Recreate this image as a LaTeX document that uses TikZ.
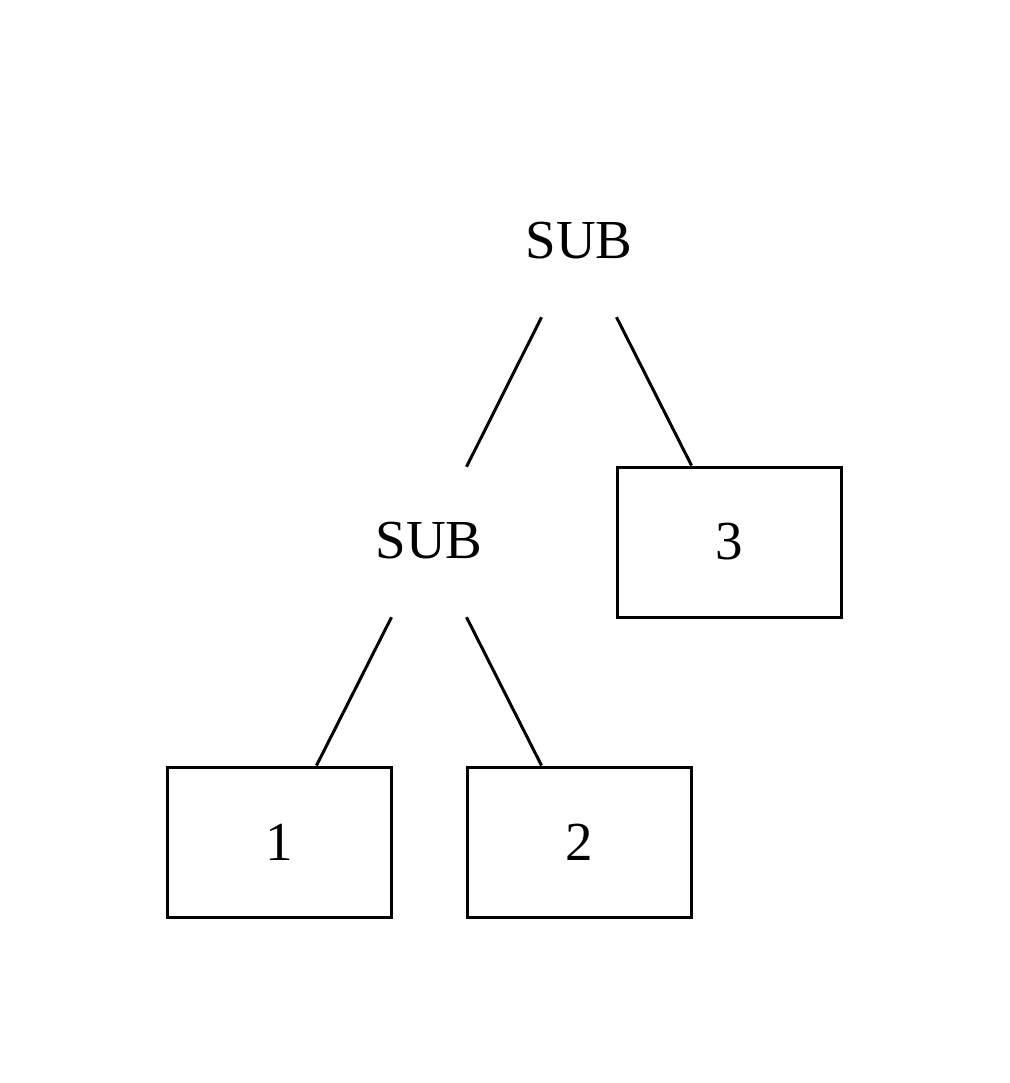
\documentclass[tikz,border=0pt]{standalone}
\usepackage{fontspec}
\setmainfont{Liberation Serif}
\begin{document}
\begin{tikzpicture}[x=1pt,y=-1pt,
  cell/.style={minimum width=224pt,minimum height=150pt,inner sep=0pt,font=\fontsize{55}{66}\selectfont},
  boxed/.style={cell,draw,line width=3pt},
  edge/.style={line width=3pt}]
\useasboundingbox (0,0) rectangle (1009,1083);
\node[cell] (top) at (579,241) {SUB};
\node[cell] (sub) at (429,541) {SUB};
\node[boxed] (b3) at (729,542) {3};
\node[boxed] (b1) at (279,842) {1};
\node[boxed] (b2) at (579,842) {2};
\draw[edge] ([xshift=-37.5pt,yshift=-1pt]top.south) -- ([xshift=37.5pt,yshift=-1pt]sub.north);
\draw[edge] ([xshift=37.5pt,yshift=-1pt]top.south) -- ([xshift=-37.5pt]b3.north);
\draw[edge] ([xshift=-37.5pt,yshift=-1pt]sub.south) -- ([xshift=37.5pt]b1.north);
\draw[edge] ([xshift=37.5pt,yshift=-1pt]sub.south) -- ([xshift=-37.5pt]b2.north);
\end{tikzpicture}
\end{document}
